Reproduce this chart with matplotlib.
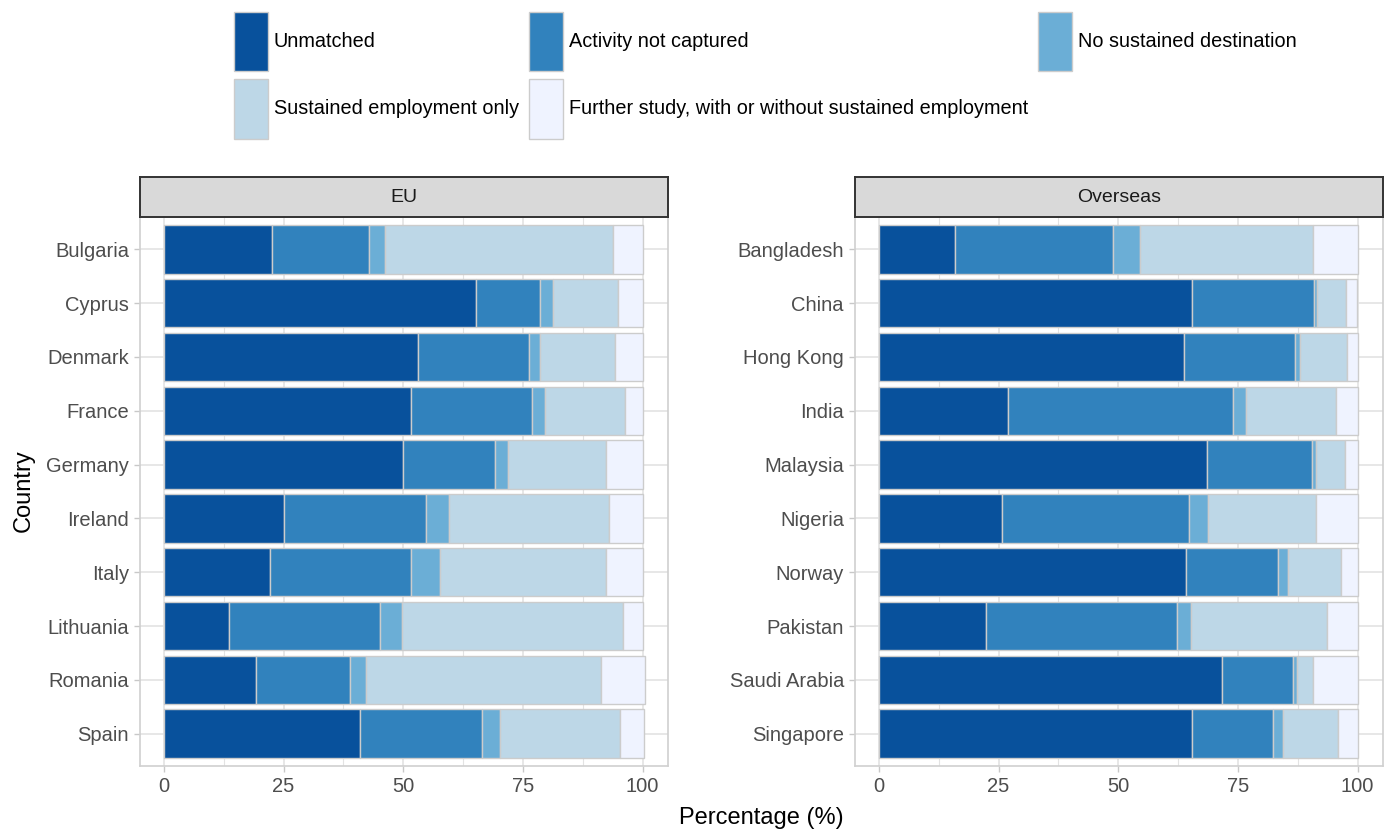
import matplotlib
matplotlib.use("Agg")
import matplotlib.pyplot as plt
from matplotlib.patches import Patch
import numpy as np

plt.rcParams["font.family"] = ["Liberation Sans", "DejaVu Sans"]

# --- data (percentages) ---
categories = ["Unmatched", "Activity not captured", "No sustained destination",
              "Sustained employment only",
              "Further study, with or without sustained employment"]
colors = ["#08519C", "#3182BD", "#6BAED6", "#BDD7E7", "#EFF3FF"]

eu_countries = ["Bulgaria", "Cyprus", "Denmark", "France", "Germany",
                "Ireland", "Italy", "Lithuania", "Romania", "Spain"]
eu_unmatched = [22.6, 65.2, 53.0, 51.7, 50.0, 25.0, 22.2, 13.5, 19.3, 40.9]
eu_activity = [20.2, 13.4, 23.3, 25.2, 19.2, 29.7, 29.5, 31.7, 19.5, 25.6]
eu_nosust = [3.4, 2.7, 2.2, 2.7, 2.7, 4.9, 5.9, 4.6, 3.4, 3.7]
eu_employ = [47.7, 13.6, 15.8, 16.7, 20.4, 33.3, 34.7, 46.2, 49.1, 25.1]
eu_study = [6.1, 5.1, 5.7, 3.7, 7.7, 7.1, 7.7, 4.0, 9.1, 5.0]

os_countries = ["Bangladesh", "China", "Hong Kong", "India", "Malaysia",
                "Nigeria", "Norway", "Pakistan", "Saudi Arabia", "Singapore"]
os_unmatched = [15.9, 65.4, 63.8, 27.0, 68.5, 25.7, 64.1, 22.3, 71.6, 65.5]
os_activity = [33.0, 25.4, 23.1, 46.9, 22.0, 39.1, 19.3, 39.9, 14.9, 16.9]
os_nosust = [5.7, 0.8, 1.1, 2.7, 0.9, 4.0, 2.0, 2.9, 0.9, 2.0]
os_employ = [36.0, 6.0, 9.7, 18.8, 5.9, 22.5, 11.2, 28.6, 3.2, 11.6]
os_study = [9.4, 2.3, 2.3, 4.6, 2.7, 8.7, 3.4, 6.3, 9.4, 4.0]

panels = [
    ("EU", eu_countries, [eu_unmatched, eu_activity, eu_nosust, eu_employ, eu_study]),
    ("Overseas", os_countries, [os_unmatched, os_activity, os_nosust, os_employ, os_study]),
]

W, H = 1391, 830
fig = plt.figure(figsize=(W / 100, H / 100), dpi=100)

grid_col = "#E3E3E3"
border_col = "#D0D0D0"
tick_txt = "#4D4D4D"

panel_left = [140, 855]
panel_w = 528
panel_top, panel_bot = 217, 766
strip_top = 177

for (title, countries, series), px in zip(panels, panel_left):
    ax = fig.add_axes([px / W, 1 - panel_bot / H, panel_w / W, (panel_bot - panel_top) / H])
    y = np.arange(len(countries))
    left = np.zeros(len(countries))
    for vals, col in zip(series, colors):
        ax.barh(y, vals, left=left, height=0.9, color=col,
                edgecolor="#CCCCCC", linewidth=1.0, zorder=3)
        left = left + np.array(vals)

    ax.set_xlim(-5.0, 105.3)
    ax.set_ylim(len(countries) - 0.4, -0.6)
    ax.set_yticks(y)
    ax.set_yticklabels(countries)
    ax.set_xticks([0, 25, 50, 75, 100])
    ax.set_xticklabels(["0", "25", "50", "75", "100"])
    ax.set_xticks([12.5, 37.5, 62.5, 87.5], minor=True)
    ax.grid(which="major", color=grid_col, linewidth=1.2, zorder=0)
    ax.grid(which="minor", axis="x", color=grid_col, linewidth=0.8, zorder=0)
    ax.set_axisbelow(True)
    ax.tick_params(which="major", length=4.5, width=1, color="#C8C8C8",
                   labelsize=14.5, labelcolor=tick_txt, pad=3.5)
    ax.tick_params(which="minor", length=0)
    for s in ax.spines.values():
        s.set_color(border_col)
        s.set_linewidth(1.2)

    # facet strip
    sax = fig.add_axes([px / W, 1 - panel_top / H, panel_w / W, (panel_top - strip_top) / H])
    sax.set_xticks([])
    sax.set_yticks([])
    sax.set_facecolor("#D9D9D9")
    for s in sax.spines.values():
        s.set_color("#333333")
        s.set_linewidth(1.4)
    sax.text(0.5, 0.5, title, ha="center", va="center", fontsize=14,
             color="#1A1A1A", transform=sax.transAxes)

fig.text(24 / W, 1 - 491 / H, "Country", rotation=90, ha="center", va="center",
         fontsize=17, color="black")
fig.text(761 / W, 1 - 818 / H, "Percentage (%)", ha="center", va="center",
         fontsize=17, color="black")

# legend filled row-wise like ggplot (matplotlib fills by column)
handles = [Patch(facecolor=c, edgecolor="#CCCCCC", linewidth=1.0) for c in colors]
order = [0, 3, 1, 4, 2]
fig.legend([handles[i] for i in order], [categories[i] for i in order],
           ncol=3, loc="upper left", bbox_to_anchor=(234 / W, 1 - 12 / H),
           frameon=False, fontsize=14.3, handlelength=1.71, handleheight=4.22,
           handletextpad=0.3, columnspacing=0.5, labelspacing=0.4,
           borderpad=0, borderaxespad=0)

fig.savefig("out.png", dpi=100)
